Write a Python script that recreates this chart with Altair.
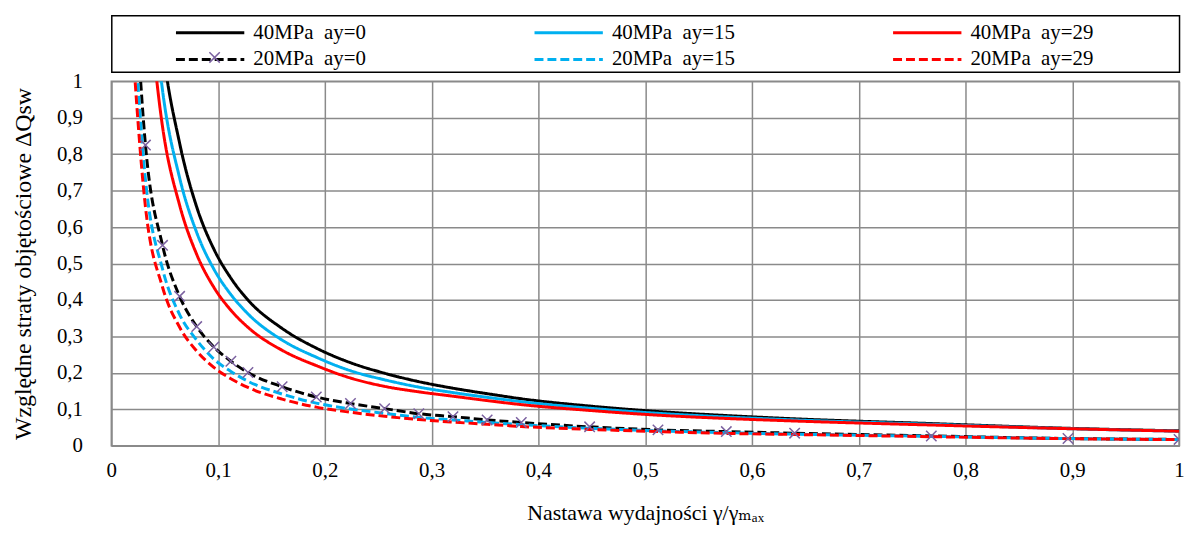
import altair as alt
import pandas as pd

# ---- data ----
x_20 = [0.016, 0.032, 0.048, 0.064, 0.08, 0.096, 0.112, 0.128, 0.16, 0.192, 0.224, 0.256,
        0.288, 0.32, 0.352, 0.384, 0.448, 0.512, 0.576, 0.64, 0.768, 0.896, 1.0]
x_40 = [0.032, 0.048, 0.064, 0.08, 0.096, 0.112, 0.128, 0.16, 0.192, 0.224, 0.256,
        0.288, 0.32, 0.352, 0.384, 0.448, 0.512, 0.576, 0.64, 0.768, 0.896, 1.0]

y_40_ay0 = [1.65, 1.1, 0.83, 0.655, 0.54, 0.46, 0.40, 0.322, 0.268, 0.228, 0.199,
            0.176, 0.158, 0.143, 0.129, 0.109, 0.094, 0.083, 0.074, 0.061, 0.048, 0.041]
y_40_ay15 = [1.46, 0.975, 0.735, 0.585, 0.485, 0.415, 0.362, 0.29, 0.243, 0.206, 0.181,
             0.161, 0.146, 0.133, 0.121, 0.103, 0.089, 0.079, 0.071, 0.059, 0.047, 0.040]
y_40_ay29 = [1.31, 0.875, 0.66, 0.525, 0.435, 0.372, 0.325, 0.262, 0.220, 0.186, 0.163,
             0.148, 0.136, 0.124, 0.113, 0.097, 0.084, 0.075, 0.068, 0.057, 0.047, 0.040]
y_20_ay0 = [1.60, 0.825, 0.55, 0.41, 0.327, 0.271, 0.232, 0.201, 0.162, 0.134, 0.116, 0.102,
            0.088, 0.080, 0.071, 0.064, 0.052, 0.0437, 0.039, 0.0346, 0.027, 0.020, 0.0175]
y_20_ay15 = [1.42, 0.73, 0.485, 0.36, 0.29, 0.238, 0.204, 0.177, 0.142, 0.117, 0.101, 0.089,
             0.078, 0.071, 0.064, 0.058, 0.048, 0.041, 0.036, 0.032, 0.026, 0.0198, 0.0173]
y_20_ay29 = [1.28, 0.655, 0.435, 0.325, 0.26, 0.215, 0.184, 0.160, 0.128, 0.106, 0.092, 0.081,
             0.072, 0.065, 0.059, 0.053, 0.045, 0.039, 0.034, 0.031, 0.025, 0.0195, 0.017]

series_names = ["40MPa\u00a0 ay=0", "40MPa\u00a0 ay=15", "40MPa\u00a0 ay=29",
                "20MPa\u00a0 ay=0", "20MPa\u00a0 ay=15", "20MPa\u00a0 ay=29"]
series_colors = ["#000000", "#00B0F0", "#FF0000", "#000000", "#00B0F0", "#FF0000"]
series_dashes = [[1, 0], [1, 0], [1, 0], [9, 4], [9, 4], [9, 4]]

axis_ticks = [0, 0.1, 0.2, 0.3, 0.4, 0.5, 0.6, 0.7, 0.8, 0.9, 1.0]
x_title = "Nastawa wydajności γ/γₘₐₓ"
y_title = "Względne straty objętościowe ΔQsw"

# ---- long table ----
rows = []
for name, xs, ys in zip(series_names,
                        [x_40, x_40, x_40, x_20, x_20, x_20],
                        [y_40_ay0, y_40_ay15, y_40_ay29, y_20_ay0, y_20_ay15, y_20_ay29]):
    for i, (xv, yv) in enumerate(zip(xs, ys)):
        rows.append({"series": name, "x": xv, "y": yv, "order": i})
df = pd.DataFrame(rows)

FONT = "Liberation Serif, Times New Roman, DejaVu Serif, serif"
GRID = "#8a8a8a"
PURPLE = "#7B61A0"
XPATH = "M-1,-1L1,1M-1,1L1,-1"
LEGEND_LINE = "M-4.3,0H4.3"
CLEAR = "rgba(255,255,255,0)"

label_expr = "replace(format(datum.value, '.1~f'), '.', ',')"

x_axis = alt.Axis(values=axis_ticks, labelExpr=label_expr, grid=True, ticks=False,
                  gridColor=GRID, gridWidth=1.5, domainColor=GRID, domainWidth=1.5,
                  labelFontSize=21, labelColor="black", labelPadding=14,
                  labelFlush=False, title=x_title, titleFontSize=22,
                  titleFontWeight="normal", titleColor="black", titlePadding=22)
y_axis = alt.Axis(values=axis_ticks, labelExpr=label_expr, grid=True, ticks=False,
                  gridColor=GRID, gridWidth=1.5, domainColor=GRID, domainWidth=1.5,
                  labelFontSize=21, labelColor="black", labelPadding=29,
                  labelFlush=False, title=y_title, titleFontSize=24,
                  titleFontWeight="normal", titleColor="black", titlePadding=21)

x_enc = alt.X("x:Q", scale=alt.Scale(domain=[0, 1], nice=False, zero=False), axis=x_axis)
y_enc = alt.Y("y:Q", scale=alt.Scale(domain=[0, 1], nice=False, zero=False), axis=y_axis)

# legend entries (no frame of their own)
main_legend = alt.Legend(
    orient="none", legendX=0, legendY=-65.5, direction="horizontal", columns=3,
    gridAlign="all", padding=6, rowPadding=5, columnPadding=100,
    symbolType=LEGEND_LINE, symbolSize=256, symbolStrokeWidth=3, symbolOffset=83,
    labelFontSize=21, labelColor="black", labelOffset=33, labelLimit=400,
    title=None,
)

# the legend frame: a clear gradient band outlined in black
frame_legend = alt.Legend(
    orient="none", legendX=0.5, legendY=-66, direction="horizontal", type="gradient",
    gradientLength=1075, gradientThickness=57, gradientStrokeColor="black",
    gradientStrokeWidth=1.5, labelExpr="''", labelFontSize=1, title=None, padding=0,
)

color_scale = alt.Scale(domain=series_names, range=series_colors)
dash_scale = alt.Scale(domain=series_names, range=series_dashes)

base = alt.Chart(df)
layers = []
for name in series_names:
    layers.append(
        base.transform_filter(alt.datum.series == name)
        .mark_line(clip=True, strokeWidth=3, interpolate="monotone", strokeCap="butt")
        .encode(x=x_enc, y=y_enc,
                color=alt.Color("series:N", scale=color_scale, legend=main_legend),
                strokeDash=alt.StrokeDash("series:N", scale=dash_scale, legend=main_legend),
                order="order:Q")
    )

marker_legend = alt.Legend(
    orient="none", legendX=98, legendY=-30, title=None, labelExpr="''",
    labelFontSize=1, labelOffset=0, padding=0, symbolOffset=0, symbolSize=110,
    symbolStrokeColor=PURPLE, symbolFillColor="transparent", symbolStrokeWidth=1.5,
)
markers = (
    base.transform_filter(alt.datum.series == series_names[3])
    .mark_point(clip=True, filled=False, size=110, strokeWidth=1.5, color=PURPLE, opacity=1)
    .encode(x=x_enc, y=y_enc,
            shape=alt.Shape("series:N",
                            scale=alt.Scale(domain=[series_names[3]], range=[XPATH]),
                            legend=marker_legend),
            fill=alt.Fill("y:Q", scale=alt.Scale(range=[CLEAR, CLEAR]),
                          legend=frame_legend))
)

chart = (
    alt.layer(*layers, markers)
    .properties(width=1075, height=367,
                autosize=alt.AutoSizeParams(type="none"),
                padding={"left": 104, "top": 72, "right": 5, "bottom": 83})
    .configure(font=FONT, background="white")
    .configure_view(stroke=GRID, strokeWidth=1.5)
)

chart.save("out.html", embed_options={"renderer": "svg", "actions": False})
